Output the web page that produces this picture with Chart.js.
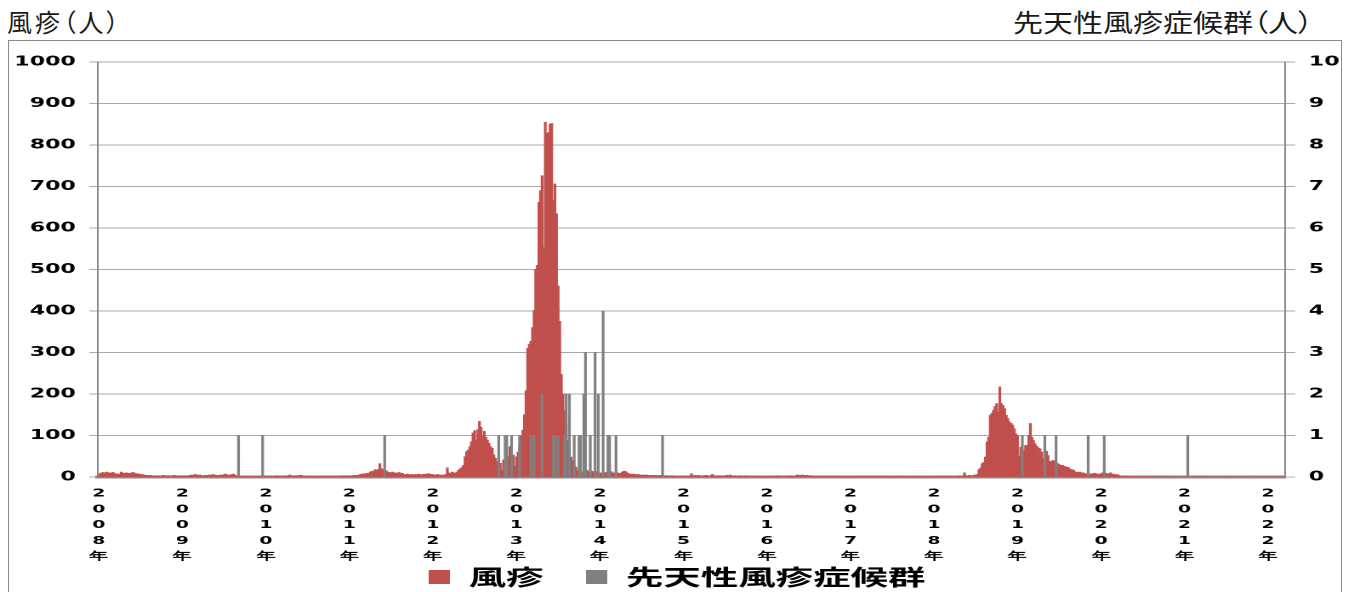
<!DOCTYPE html>
<html lang="ja">
<head>
<meta charset="utf-8">
<title>風疹・先天性風疹症候群 週別報告数</title>
<script src="https://cdn.jsdelivr.net/npm/chart.js@4.4.1/dist/chart.umd.min.js"></script>
<style>
  html, body { margin: 0; padding: 0; background: #fff; width: 1354px; height: 592px; overflow: hidden; }
  .frame { position: absolute; left: 8px; top: 40px; width: 1334px; height: 600px; border: 1.5px solid #8a8a8a; box-sizing: border-box; }
  .ttl { position: absolute; top: 6px; font-family: "Noto Sans CJK JP", sans-serif; font-size: 25px; color: #1a1a1a; line-height: 1.2; font-feature-settings: "palt"; white-space: nowrap; }
  #ttlLeft { left: 7px; letter-spacing: 3px; }
  #ttlRight { right: 41px; transform: scaleX(1.2); transform-origin: 100% 0; }
  /* the original picture is stretched sideways, so is this chart */
  #wrap { position: absolute; left: 0; top: 0; width: 796px; height: 598px; transform: scaleX(1.70101); transform-origin: 0 0; }
</style>
</head>
<body>
<div class="frame"></div>
<div class="ttl" id="ttlLeft">風疹（人）</div>
<div class="ttl" id="ttlRight">先天性風疹症候群（人）</div>
<div id="wrap"><canvas id="chart"></canvas></div>
<script>
// weekly reports
const years = [2008, 2009, 2010, 2011, 2012, 2013, 2014, 2015, 2016, 2017, 2018, 2019, 2020, 2021, 2022];

const rubella2008 = [5, 9, 10, 11, 8, 12, 10, 9, 10, 11, 7, 8, 6, 7, 12, 9, 8, 10, 9, 8, 9, 11, 10, 8, 8, 7,
  6, 6, 5, 4, 4, 3, 4, 3, 2, 3, 2, 3, 2, 2, 4, 3, 2, 3, 3, 2, 3, 4, 3, 2, 3, 2];
const rubella2009 = [3, 2, 3, 2, 3, 4, 5, 4, 6, 5, 4, 5, 3, 2, 4, 3, 4, 5, 4, 6, 5, 4, 3, 4, 5, 4,
  6, 7, 5, 4, 5, 6, 7, 4, 2, 1, 2, 1, 1, 2, 1, 1, 2, 1, 1, 0, 1, 2, 1, 1, 1, 2];
const rubella2010 = [1, 2, 1, 2, 1, 1, 2, 3, 2, 1, 2, 2, 3, 2, 3, 5, 2, 2, 3, 3, 2, 4, 4, 1, 2, 1,
  1, 2, 1, 1, 2, 1, 1, 1, 2, 1, 1, 2, 1, 1, 2, 1, 1, 2, 2, 1, 2, 3, 2, 2, 3, 2];
const rubella2011 = [2, 3, 2, 4, 3, 4, 5, 6, 7, 8, 6, 9, 8, 12, 14, 13, 18, 16, 18, 32, 20, 18, 14, 15, 12, 11,
  10, 12, 9, 10, 9, 11, 8, 9, 6, 5, 7, 6, 5, 6, 4, 6, 5, 7, 6, 5, 6, 7, 6, 8, 7, 6];
const rubella2012 = [6, 5, 4, 6, 5, 4, 5, 4, 6, 22, 10, 8, 12, 10, 9, 12, 16, 20, 22, 28, 49, 61, 65, 73, 85, 106,
  112, 89, 114, 134, 120, 98, 110, 96, 89, 81, 73, 69, 53, 45, 37, 24, 33, 16, 41, 33, 45, 49, 73, 57, 53, 26];
const rubella2013 = [49, 60, 77, 100, 113, 150, 208, 310, 320, 327, 360, 401, 500, 510, 662, 690, 726, 553, 855, 828, 830, 850, 852, 666, 706, 634,
  460, 375, 247, 200, 160, 130, 88, 68, 48, 40, 28, 24, 15, 12, 13, 12, 14, 11, 16, 12, 10, 14, 12, 11, 13, 10];
const rubella2014 = [10, 8, 12, 9, 11, 14, 12, 13, 10, 9, 12, 10, 8, 9, 12, 14, 13, 10, 8, 7, 6, 7, 6, 5, 6, 5,
  4, 5, 4, 5, 4, 4, 3, 4, 3, 4, 3, 3, 4, 3, 2, 3, 3, 2, 2, 3, 2, 1, 2, 2, 1, 2];
const rubella2015 = [2, 1, 2, 1, 2, 8, 3, 4, 3, 4, 3, 2, 3, 2, 4, 3, 2, 3, 6, 3, 2, 3, 2, 3, 2, 2,
  3, 4, 2, 5, 3, 2, 3, 2, 2, 3, 2, 1, 2, 3, 2, 2, 1, 2, 1, 2, 1, 2, 1, 1, 2, 1];
const rubella2016 = [1, 2, 1, 1, 2, 1, 2, 3, 2, 1, 2, 2, 1, 2, 3, 2, 2, 1, 3, 5, 4, 4, 5, 3, 4, 4,
  3, 2, 3, 2, 1, 2, 1, 2, 1, 1, 2, 1, 2, 1, 1, 1, 2, 1, 1, 2, 1, 1, 1, 2, 1, 1];
const rubella2017 = [1, 1, 2, 1, 1, 2, 1, 1, 2, 1, 2, 1, 1, 2, 2, 1, 2, 1, 1, 2, 1, 1, 2, 1, 1, 1,
  2, 1, 1, 2, 1, 1, 1, 2, 1, 1, 1, 1, 2, 1, 1, 1, 1, 2, 1, 1, 1, 1, 1, 2, 1, 1];
const rubella2018 = [1, 1, 2, 1, 1, 2, 1, 1, 2, 1, 2, 1, 2, 2, 1, 2, 3, 2, 2, 10, 3, 2, 4, 3, 2, 5,
  4, 6, 18, 22, 32, 35, 48, 84, 96, 149, 153, 161, 170, 177, 157, 217, 177, 172, 165, 149, 141, 133, 129, 125, 116, 104];
const rubella2019 = [100, 50, 72, 64, 64, 76, 76, 100, 129, 96, 88, 80, 74, 70, 68, 60, 44, 64, 62, 52, 38, 36, 40, 38, 36, 32,
  30, 28, 28, 26, 24, 24, 22, 18, 18, 16, 12, 12, 11, 12, 8, 10, 7, 8, 9, 6, 8, 7, 9, 8, 6, 7];
const rubella2020 = [8, 10, 14, 9, 7, 8, 10, 6, 7, 5, 6, 4, 2, 1, 1, 2, 1, 0, 1, 1, 0, 1, 0, 0, 1, 2,
  1, 0, 1, 2, 1, 0, 0, 1, 0, 0, 0, 1, 0, 0, 0, 0, 1, 0, 0, 0, 0, 0, 0, 0, 0, 0];
const rubella2021 = [0, 0, 1, 0, 0, 0, 0, 1, 0, 0, 0, 0, 0, 1, 0, 0, 0, 0, 0, 0, 0, 0, 0, 0, 0, 1,
  0, 0, 0, 0, 0, 0, 0, 0, 0, 0, 0, 0, 0, 0, 0, 0, 0, 0, 0, 0, 0, 0, 0, 0, 0, 0];
const rubella2022 = [0, 0, 0, 0, 0, 0, 0, 0, 0, 0, 0];

// congenital rubella syndrome: week of report and count
const crsWeeks = ['2009-36', '2009-51', '2011-23',
  '2012-42', '2012-46', '2012-47', '2012-50',
  '2013-03', '2013-10', '2013-12', '2013-17', '2013-24', '2013-25', '2013-27', '2013-31', '2013-32', '2013-34',
  '2013-37', '2013-40', '2013-41', '2013-43', '2013-44', '2013-47', '2013-50', '2013-52',
  '2014-03', '2014-06', '2014-07', '2014-11', '2014-40',
  '2019-04', '2019-18', '2019-25', '2019-45', '2020-03', '2021-03'];
const crsCounts = [1, 1, 1,
  1, 1, 1, 1,
  1, 1, 1, 2, 1, 1, 1, 1, 2, 2,
  1, 1, 1, 2, 3, 1, 3, 2,
  4, 1, 1, 1, 1,
  1, 1, 1, 1, 1, 1];

const rubellaTicks = [0, 100, 200, 300, 400, 500, 600, 700, 800, 900, 1000];
const crsTicks = [0, 1, 2, 3, 4, 5, 6, 7, 8, 9, 10];

const rubellaByYear = [rubella2008, rubella2009, rubella2010, rubella2011, rubella2012, rubella2013, rubella2014,
  rubella2015, rubella2016, rubella2017, rubella2018, rubella2019, rubella2020, rubella2021, rubella2022];

// one category per week
const labels = [];
const rubella = [];
const crs = [];
years.forEach((y, k) => {
  rubellaByYear[k].forEach((v, w) => {
    labels.push(y + '-' + String(w + 1).padStart(2, '0'));
    rubella.push(v);
    crs.push(null);
  });
});
crsWeeks.forEach((wk, k) => {
  crs[labels.indexOf(wk)] = crsCounts[k];
});

const tickFont = { family: 'DejaVu Sans', size: 13, weight: 'bold' };
const gridColor = '#a8a8a8';
const axisColor = '#8a8a8a';

// the year labels run down into the legend band, don't clip them to the axis box
const noLabelClip = {
  id: 'noLabelClip',
  afterLayout(chart) {
    chart.scales.x._computeLabelArea = () => undefined;
  }
};

new Chart(document.getElementById('chart'), {
  type: 'bar',
  data: {
    labels: labels,
    datasets: [{
      label: '風疹',
      data: rubella,
      yAxisID: 'y',
      backgroundColor: '#c0504d',
      borderWidth: 0,
      barPercentage: 1,
      categoryPercentage: 1,
      grouped: false,
      order: 2
    }, {
      label: '先天性風疹症候群',
      data: crs,
      yAxisID: 'y2',
      backgroundColor: '#808080',
      borderWidth: 0,
      barPercentage: 1,
      categoryPercentage: 1,
      grouped: false,
      order: 1
    }]
  },
  plugins: [noLabelClip],
  options: {
    responsive: true,
    maintainAspectRatio: false,
    animation: false,
    devicePixelRatio: 2,
    layout: { padding: { top: 62, left: 0, right: 0, bottom: 0 } },
    plugins: {
      tooltip: { enabled: false },
      legend: {
        position: 'bottom',
        labels: {
          boxWidth: 12.5,
          boxHeight: 14,
          padding: 25,
          color: '#000',
          font: { family: 'Noto Sans CJK JP', size: 22, weight: 'bold' },
          sort: (a, b) => a.datasetIndex - b.datasetIndex
        }
      }
    },
    scales: {
      x: {
        grid: { display: false },
        border: { display: true, color: axisColor, width: 3 },
        ticks: {
          autoSkip: false,
          maxRotation: 0,
          minRotation: 0,
          padding: 1,
          color: '#000',
          font: { family: 'DejaVu Sans', size: 11, weight: 'bold', lineHeight: 1.43 },
          callback: (value, index) => {
            const lab = labels[index];
            return lab.endsWith('-01') ? lab.slice(0, 4).split('').concat('年') : '';
          }
        },
        afterFit: (scale) => { scale.height = 64; }
      },
      y: {
        position: 'left',
        min: 0,
        max: 1000,
        afterBuildTicks: (scale) => { scale.ticks = rubellaTicks.map(v => ({ value: v })); },
        grid: { color: gridColor, lineWidth: 1, tickLength: 5 },
        border: { display: true, color: axisColor, width: 1 },
        ticks: { color: '#000', font: tickFont, padding: 8, callback: (v) => String(v) },
        afterFit: (scale) => { scale.width = 57.6; }
      },
      y2: {
        position: 'right',
        min: 0,
        max: 10,
        afterBuildTicks: (scale) => { scale.ticks = crsTicks.map(v => ({ value: v })); },
        grid: { drawOnChartArea: false, color: gridColor, lineWidth: 1, tickLength: 6 },
        border: { display: true, color: axisColor, width: 1 },
        ticks: { color: '#000', font: tickFont, padding: 8, callback: (v) => String(v) },
        afterFit: (scale) => { scale.width = 40.6; }
      }
    }
  }
});
</script>
</body>
</html>
